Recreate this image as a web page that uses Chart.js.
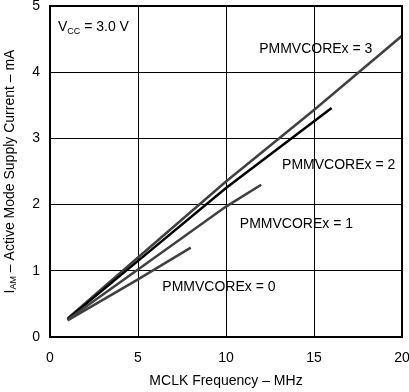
<!DOCTYPE html>
<html>
<head>
<meta charset="utf-8">
<script src="https://cdn.jsdelivr.net/npm/chart.js@4/dist/chart.umd.min.js"></script>
<style>
  html, body { margin: 0; padding: 0; background: #fff; }
  #wrap { width: 409px; height: 392px; }
</style>
</head>
<body>
<div id="wrap"><canvas id="chart"></canvas></div>
<script>
// MCLK frequency (MHz) and active mode current (mA) per core voltage level
const freq0 = [1, 5, 8];
const curr0 = [0.25, 0.87, 1.35];
const freq1 = [1, 5, 10, 12];
const curr1 = [0.26, 1.02, 1.97, 2.3];
const freq2 = [1, 5, 10, 16];
const curr2 = [0.27, 1.15, 2.25, 3.46];
const freq3 = [1, 5, 10, 15, 20];
const curr3 = [0.28, 1.2, 2.35, 3.43, 4.55];
const seriesNames = ["PMMVCOREx = 0", "PMMVCOREx = 1", "PMMVCOREx = 2", "PMMVCOREx = 3"];
const xTicks = [0, 5, 10, 15, 20];
const yTicks = [0, 1, 2, 3, 4, 5];

const FONT = "Liberation Sans, Arial, sans-serif";
const toPts = (xs, ys) => xs.map((x, i) => ({ x, y: ys[i] }));

// where each series label sits, in data units
const labelSpots = [
	{ x: 9.6, y: 0.755 },
	{ x: 14.0, y: 1.71 },
	{ x: 16.4, y: 2.6 },
	{ x: 15.1, y: 4.35 },
];

const textPlugin = {
	id: "texts",
	afterDraw(chart) {
		const { ctx, scales: { x, y }, chartArea } = chart;
		ctx.save();
		ctx.fillStyle = "#000";
		ctx.textBaseline = "middle";
		ctx.textAlign = "center";
		ctx.font = "14px " + FONT;
		seriesNames.forEach((name, i) => {
			ctx.fillText(name, x.getPixelForValue(labelSpots[i].x), y.getPixelForValue(labelSpots[i].y));
		});

		// Vcc note
		let px = x.getPixelForValue(0.45);
		const py = y.getPixelForValue(4.68);
		ctx.textAlign = "left";
		ctx.fillText("V", px, py);
		px += ctx.measureText("V").width;
		ctx.font = "9px " + FONT;
		ctx.fillText("CC", px, py + 4);
		px += ctx.measureText("CC").width;
		ctx.font = "14px " + FONT;
		ctx.fillText(" = 3.0 V", px, py);

		// y axis title with subscript
		const parts = [
			["I", 14, 0],
			["AM", 9, 4],
			[" \u2013 Active Mode Supply Current \u2013 mA", 14, 0],
		];
		let total = 0;
		parts.forEach(([t, s]) => {
			ctx.font = s + "px " + FONT;
			total += ctx.measureText(t).width;
		});
		ctx.translate(10, (chartArea.top + chartArea.bottom) / 2);
		ctx.rotate(-Math.PI / 2);
		let tx = -total / 2;
		parts.forEach(([t, s, dy]) => {
			ctx.font = s + "px " + FONT;
			ctx.fillText(t, tx, dy);
			tx += ctx.measureText(t).width;
		});
		ctx.restore();
	},
};

const line = (xs, ys, color) => ({
	data: toPts(xs, ys),
	borderColor: color,
	borderWidth: 2.5,
	pointRadius: 0,
	fill: false,
	tension: 0,
});

new Chart(document.getElementById("chart"), {
	type: "line",
	data: {
		datasets: [
			line(freq0, curr0, "#404040"),
			line(freq1, curr1, "#404040"),
			line(freq2, curr2, "#000000"),
			line(freq3, curr3, "#404040"),
		],
	},
	options: {
		responsive: true,
		maintainAspectRatio: false,
		animation: false,
		layout: { padding: { top: 6, right: 7, left: 0, bottom: 0 } },
		plugins: { legend: { display: false }, tooltip: { enabled: false } },
		scales: {
			x: {
				type: "linear",
				min: 0,
				max: 20,
				afterBuildTicks: (s) => { s.ticks = xTicks.map((v) => ({ value: v })); },
				afterFit: (s) => { s.height = 55; s.paddingLeft = 0; s.paddingRight = 0; },
				grid: { color: "#000", lineWidth: 1, drawTicks: false },
				border: { color: "#000", width: 2 },
				ticks: { color: "#000", font: { family: FONT, size: 14 }, padding: 13, maxRotation: 0 },
				title: {
					display: true,
					text: "MCLK Frequency \u2013 MHz",
					color: "#000",
					font: { family: FONT, size: 14 },
					padding: { top: 0, bottom: 2 },
				},
			},
			y: {
				type: "linear",
				min: 0,
				max: 5,
				afterBuildTicks: (s) => { s.ticks = yTicks.map((v) => ({ value: v })); },
				afterFit: (s) => { s.width = 50; s.paddingTop = 0; s.paddingBottom = 0; },
				grid: { color: "#000", lineWidth: 1, drawTicks: false },
				border: { color: "#000", width: 2 },
				ticks: { color: "#000", font: { family: FONT, size: 14 }, padding: 10 },
			},
		},
	},
	plugins: [textPlugin, {
		id: "frame",
		afterDatasetsDraw(chart) {
			const { ctx, chartArea: a } = chart;
			ctx.save();
			ctx.strokeStyle = "#000";
			ctx.lineWidth = 2;
			ctx.strokeRect(a.left, a.top, a.right - a.left, a.bottom - a.top);
			ctx.restore();
		},
	}],
});
</script>
</body>
</html>
